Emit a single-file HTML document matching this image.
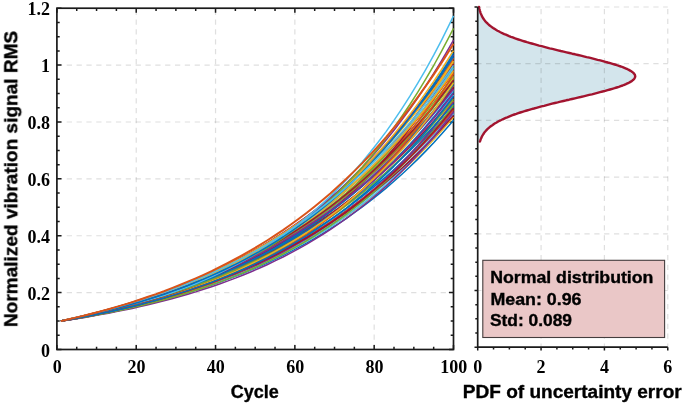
<!DOCTYPE html>
<html><head><meta charset="utf-8"><style>
html,body{margin:0;padding:0;background:#fff;overflow:hidden}
svg{display:block}
text{will-change:transform}
</style></head><body>
<svg width="685" height="406" viewBox="0 0 685 406">
<rect width="685" height="406" fill="#fff"/>
<line x1="136.22" y1="349.50" x2="136.22" y2="8.22" stroke="#262626" stroke-opacity="0.15" stroke-width="1.2" stroke-dasharray="5.25 4.59"/>
<line x1="215.54" y1="349.50" x2="215.54" y2="8.22" stroke="#262626" stroke-opacity="0.15" stroke-width="1.2" stroke-dasharray="5.25 4.59"/>
<line x1="294.86" y1="349.50" x2="294.86" y2="8.22" stroke="#262626" stroke-opacity="0.15" stroke-width="1.2" stroke-dasharray="5.25 4.59"/>
<line x1="374.18" y1="349.50" x2="374.18" y2="8.22" stroke="#262626" stroke-opacity="0.15" stroke-width="1.2" stroke-dasharray="5.25 4.59"/>
<line x1="56.90" y1="292.62" x2="453.50" y2="292.62" stroke="#262626" stroke-opacity="0.15" stroke-width="1.2" stroke-dasharray="5.25 4.59"/>
<line x1="56.90" y1="235.74" x2="453.50" y2="235.74" stroke="#262626" stroke-opacity="0.15" stroke-width="1.2" stroke-dasharray="5.25 4.59"/>
<line x1="56.90" y1="178.86" x2="453.50" y2="178.86" stroke="#262626" stroke-opacity="0.15" stroke-width="1.2" stroke-dasharray="5.25 4.59"/>
<line x1="56.90" y1="121.98" x2="453.50" y2="121.98" stroke="#262626" stroke-opacity="0.15" stroke-width="1.2" stroke-dasharray="5.25 4.59"/>
<line x1="56.90" y1="65.10" x2="453.50" y2="65.10" stroke="#262626" stroke-opacity="0.15" stroke-width="1.2" stroke-dasharray="5.25 4.59"/>
<rect x="56.90" y="8.22" width="396.60" height="341.28" fill="none" stroke="#1a1a1a" stroke-width="1.7"/>
<path d="M56.90,349.50v-4.6M56.90,8.22v4.6M76.73,349.50v-2.8M76.73,8.22v2.8M96.56,349.50v-2.8M96.56,8.22v2.8M116.39,349.50v-2.8M116.39,8.22v2.8M136.22,349.50v-4.6M136.22,8.22v4.6M156.05,349.50v-2.8M156.05,8.22v2.8M175.88,349.50v-2.8M175.88,8.22v2.8M195.71,349.50v-2.8M195.71,8.22v2.8M215.54,349.50v-4.6M215.54,8.22v4.6M235.37,349.50v-2.8M235.37,8.22v2.8M255.20,349.50v-2.8M255.20,8.22v2.8M275.03,349.50v-2.8M275.03,8.22v2.8M294.86,349.50v-4.6M294.86,8.22v4.6M314.69,349.50v-2.8M314.69,8.22v2.8M334.52,349.50v-2.8M334.52,8.22v2.8M354.35,349.50v-2.8M354.35,8.22v2.8M374.18,349.50v-4.6M374.18,8.22v4.6M394.01,349.50v-2.8M394.01,8.22v2.8M413.84,349.50v-2.8M413.84,8.22v2.8M433.67,349.50v-2.8M433.67,8.22v2.8M453.50,349.50v-4.6M453.50,8.22v4.6M56.90,349.50h4.6M453.50,349.50h-4.6M56.90,335.28h2.8M453.50,335.28h-2.8M56.90,321.06h2.8M453.50,321.06h-2.8M56.90,306.84h2.8M453.50,306.84h-2.8M56.90,292.62h4.6M453.50,292.62h-4.6M56.90,278.40h2.8M453.50,278.40h-2.8M56.90,264.18h2.8M453.50,264.18h-2.8M56.90,249.96h2.8M453.50,249.96h-2.8M56.90,235.74h4.6M453.50,235.74h-4.6M56.90,221.52h2.8M453.50,221.52h-2.8M56.90,207.30h2.8M453.50,207.30h-2.8M56.90,193.08h2.8M453.50,193.08h-2.8M56.90,178.86h4.6M453.50,178.86h-4.6M56.90,164.64h2.8M453.50,164.64h-2.8M56.90,150.42h2.8M453.50,150.42h-2.8M56.90,136.20h2.8M453.50,136.20h-2.8M56.90,121.98h4.6M453.50,121.98h-4.6M56.90,107.76h2.8M453.50,107.76h-2.8M56.90,93.54h2.8M453.50,93.54h-2.8M56.90,79.32h2.8M453.50,79.32h-2.8M56.90,65.10h4.6M453.50,65.10h-4.6M56.90,50.88h2.8M453.50,50.88h-2.8M56.90,36.66h2.8M453.50,36.66h-2.8M56.90,22.44h2.8M453.50,22.44h-2.8M56.90,8.22h4.6M453.50,8.22h-4.6" stroke="#1a1a1a" stroke-width="1.5" fill="none"/>
<path d="M60.9,321.1 68.8,319.6 76.7,318.0 84.7,316.4 92.6,314.7 100.5,312.9 108.5,311.1 116.4,309.1 124.3,307.2 132.3,305.1 140.2,302.9 148.1,300.7 156.1,298.3 164.0,295.9 171.9,293.4 179.8,290.8 187.8,288.0 195.7,285.2 203.6,282.2 211.6,279.1 219.5,275.9 227.4,272.6 235.4,269.1 243.3,265.5 251.2,261.7 259.2,257.8 267.1,253.7 275.0,249.5 283.0,245.1 290.9,240.5 298.8,235.7 306.8,230.7 314.7,225.5 322.6,220.1 330.6,214.5 338.5,208.7 346.4,202.6 354.3,196.3 362.3,189.7 370.2,182.9 378.1,175.8 386.1,168.4 394.0,160.7 401.9,152.6 409.9,144.3 417.8,135.6 425.7,126.5 433.7,117.1 441.6,107.3 449.5,97.2 453.5,91.9" fill="none" stroke="#0072BD" stroke-width="1.5" stroke-linejoin="round"/>
<path d="M60.9,321.1 68.8,319.8 76.7,318.5 84.7,317.1 92.6,315.7 100.5,314.1 108.5,312.6 116.4,310.9 124.3,309.2 132.3,307.4 140.2,305.5 148.1,303.6 156.1,301.5 164.0,299.4 171.9,297.1 179.8,294.8 187.8,292.3 195.7,289.8 203.6,287.1 211.6,284.3 219.5,281.4 227.4,278.4 235.4,275.2 243.3,271.8 251.2,268.4 259.2,264.7 267.1,260.9 275.0,256.9 283.0,252.8 290.9,248.5 298.8,243.9 306.8,239.2 314.7,234.2 322.6,229.1 330.6,223.6 338.5,218.0 346.4,212.1 354.3,205.9 362.3,199.5 370.2,192.7 378.1,185.7 386.1,178.3 394.0,170.6 401.9,162.6 409.9,154.2 417.8,145.4 425.7,136.2 433.7,126.7 441.6,116.6 449.5,106.2 453.5,100.8" fill="none" stroke="#D95319" stroke-width="1.5" stroke-linejoin="round"/>
<path d="M60.9,321.1 68.8,319.5 76.7,317.8 84.7,316.1 92.6,314.3 100.5,312.5 108.5,310.5 116.4,308.5 124.3,306.4 132.3,304.2 140.2,301.9 148.1,299.5 156.1,297.0 164.0,294.4 171.9,291.6 179.8,288.8 187.8,285.8 195.7,282.7 203.6,279.5 211.6,276.1 219.5,272.6 227.4,269.0 235.4,265.1 243.3,261.1 251.2,257.0 259.2,252.7 267.1,248.1 275.0,243.4 283.0,238.5 290.9,233.3 298.8,228.0 306.8,222.4 314.7,216.6 322.6,210.5 330.6,204.2 338.5,197.5 346.4,190.6 354.3,183.4 362.3,175.9 370.2,168.1 378.1,159.9 386.1,151.4 394.0,142.5 401.9,133.2 409.9,123.6 417.8,113.5 425.7,102.9 433.7,92.0 441.6,80.5 449.5,68.6 453.5,62.4" fill="none" stroke="#EDB120" stroke-width="1.5" stroke-linejoin="round"/>
<path d="M60.9,321.1 68.8,319.6 76.7,318.1 84.7,316.5 92.6,314.8 100.5,313.1 108.5,311.3 116.4,309.5 124.3,307.6 132.3,305.6 140.2,303.5 148.1,301.4 156.1,299.1 164.0,296.8 171.9,294.4 179.8,291.9 187.8,289.3 195.7,286.6 203.6,283.8 211.6,280.9 219.5,277.9 227.4,274.8 235.4,271.5 243.3,268.1 251.2,264.6 259.2,261.0 267.1,257.2 275.0,253.2 283.0,249.2 290.9,244.9 298.8,240.5 306.8,235.9 314.7,231.2 322.6,226.3 330.6,221.1 338.5,215.8 346.4,210.3 354.3,204.5 362.3,198.6 370.2,192.4 378.1,186.0 386.1,179.3 394.0,172.3 401.9,165.1 409.9,157.7 417.8,149.9 425.7,141.8 433.7,133.5 441.6,124.8 449.5,115.7 453.5,111.1" fill="none" stroke="#7E2F8E" stroke-width="1.5" stroke-linejoin="round"/>
<path d="M60.9,321.1 68.8,319.5 76.7,317.8 84.7,316.1 92.6,314.3 100.5,312.4 108.5,310.5 116.4,308.5 124.3,306.3 132.3,304.2 140.2,301.9 148.1,299.5 156.1,297.0 164.0,294.5 171.9,291.8 179.8,289.0 187.8,286.1 195.7,283.1 203.6,280.0 211.6,276.7 219.5,273.3 227.4,269.8 235.4,266.1 243.3,262.3 251.2,258.3 259.2,254.1 267.1,249.8 275.0,245.3 283.0,240.7 290.9,235.8 298.8,230.8 306.8,225.5 314.7,220.0 322.6,214.3 330.6,208.4 338.5,202.2 346.4,195.8 354.3,189.1 362.3,182.1 370.2,174.9 378.1,167.4 386.1,159.5 394.0,151.4 401.9,142.9 409.9,134.0 417.8,124.9 425.7,115.3 433.7,105.3 441.6,95.0 449.5,84.2 453.5,78.6" fill="none" stroke="#77AC30" stroke-width="1.5" stroke-linejoin="round"/>
<path d="M60.9,321.1 68.8,319.7 76.7,318.3 84.7,316.9 92.6,315.3 100.5,313.8 108.5,312.1 116.4,310.4 124.3,308.6 132.3,306.7 140.2,304.8 148.1,302.8 156.1,300.7 164.0,298.5 171.9,296.2 179.8,293.9 187.8,291.4 195.7,288.8 203.6,286.2 211.6,283.4 219.5,280.5 227.4,277.4 235.4,274.3 243.3,271.0 251.2,267.6 259.2,264.1 267.1,260.4 275.0,256.5 283.0,252.5 290.9,248.4 298.8,244.0 306.8,239.5 314.7,234.8 322.6,229.9 330.6,224.8 338.5,219.5 346.4,213.9 354.3,208.2 362.3,202.2 370.2,195.9 378.1,189.4 386.1,182.6 394.0,175.6 401.9,168.2 409.9,160.6 417.8,152.6 425.7,144.3 433.7,135.7 441.6,126.7 449.5,117.4 453.5,112.6" fill="none" stroke="#4DBEEE" stroke-width="1.5" stroke-linejoin="round"/>
<path d="M60.9,321.1 68.8,319.3 76.7,317.4 84.7,315.5 92.6,313.5 100.5,311.5 108.5,309.3 116.4,307.1 124.3,304.7 132.3,302.3 140.2,299.8 148.1,297.2 156.1,294.5 164.0,291.6 171.9,288.7 179.8,285.6 187.8,282.5 195.7,279.2 203.6,275.7 211.6,272.1 219.5,268.4 227.4,264.6 235.4,260.6 243.3,256.4 251.2,252.1 259.2,247.6 267.1,242.9 275.0,238.0 283.0,232.9 290.9,227.7 298.8,222.2 306.8,216.5 314.7,210.6 322.6,204.4 330.6,198.0 338.5,191.4 346.4,184.5 354.3,177.3 362.3,169.8 370.2,162.1 378.1,154.0 386.1,145.6 394.0,136.9 401.9,127.8 409.9,118.4 417.8,108.6 425.7,98.4 433.7,87.8 441.6,76.8 449.5,65.3 453.5,59.5" fill="none" stroke="#A2142F" stroke-width="1.5" stroke-linejoin="round"/>
<path d="M60.9,321.1 68.8,319.8 76.7,318.4 84.7,317.1 92.6,315.6 100.5,314.1 108.5,312.5 116.4,310.9 124.3,309.2 132.3,307.4 140.2,305.6 148.1,303.6 156.1,301.6 164.0,299.5 171.9,297.4 179.8,295.1 187.8,292.7 195.7,290.3 203.6,287.7 211.6,285.0 219.5,282.3 227.4,279.4 235.4,276.3 243.3,273.2 251.2,269.9 259.2,266.5 267.1,263.0 275.0,259.3 283.0,255.4 290.9,251.4 298.8,247.2 306.8,242.9 314.7,238.4 322.6,233.6 330.6,228.7 338.5,223.6 346.4,218.3 354.3,212.7 362.3,206.9 370.2,200.9 378.1,194.6 386.1,188.1 394.0,181.3 401.9,174.2 409.9,166.8 417.8,159.1 425.7,151.1 433.7,142.7 441.6,134.0 449.5,124.9 453.5,120.3" fill="none" stroke="#0072BD" stroke-width="1.5" stroke-linejoin="round"/>
<path d="M60.9,321.1 68.8,319.6 76.7,318.1 84.7,316.6 92.6,315.0 100.5,313.2 108.5,311.5 116.4,309.6 124.3,307.6 132.3,305.6 140.2,303.4 148.1,301.2 156.1,298.8 164.0,296.3 171.9,293.8 179.8,291.0 187.8,288.2 195.7,285.3 203.6,282.2 211.6,278.9 219.5,275.5 227.4,271.9 235.4,268.2 243.3,264.3 251.2,260.2 259.2,255.9 267.1,251.5 275.0,246.8 283.0,241.9 290.9,236.7 298.8,231.4 306.8,225.7 314.7,219.8 322.6,213.7 330.6,207.2 338.5,200.4 346.4,193.4 354.3,186.0 362.3,178.2 370.2,170.1 378.1,161.6 386.1,152.7 394.0,143.3 401.9,133.6 409.9,123.4 417.8,112.7 425.7,101.5 433.7,89.7 441.6,77.5 449.5,64.6 453.5,58.0" fill="none" stroke="#D95319" stroke-width="1.5" stroke-linejoin="round"/>
<path d="M60.9,321.1 68.8,319.6 76.7,318.0 84.7,316.4 92.6,314.7 100.5,312.9 108.5,311.1 116.4,309.2 124.3,307.2 132.3,305.1 140.2,302.9 148.1,300.6 156.1,298.3 164.0,295.8 171.9,293.2 179.8,290.5 187.8,287.7 195.7,284.8 203.6,281.7 211.6,278.5 219.5,275.2 227.4,271.8 235.4,268.2 243.3,264.4 251.2,260.5 259.2,256.4 267.1,252.1 275.0,247.6 283.0,243.0 290.9,238.2 298.8,233.1 306.8,227.8 314.7,222.3 322.6,216.6 330.6,210.6 338.5,204.4 346.4,197.9 354.3,191.1 362.3,184.0 370.2,176.6 378.1,168.9 386.1,160.9 394.0,152.5 401.9,143.8 409.9,134.7 417.8,125.2 425.7,115.3 433.7,105.0 441.6,94.2 449.5,83.0 453.5,77.2" fill="none" stroke="#EDB120" stroke-width="1.5" stroke-linejoin="round"/>
<path d="M60.9,321.1 68.8,319.3 76.7,317.5 84.7,315.7 92.6,313.7 100.5,311.7 108.5,309.6 116.4,307.4 124.3,305.1 132.3,302.7 140.2,300.2 148.1,297.6 156.1,294.9 164.0,292.1 171.9,289.2 179.8,286.2 187.8,283.0 195.7,279.8 203.6,276.3 211.6,272.8 219.5,269.1 227.4,265.2 235.4,261.2 243.3,257.0 251.2,252.6 259.2,248.1 267.1,243.4 275.0,238.5 283.0,233.4 290.9,228.0 298.8,222.5 306.8,216.7 314.7,210.7 322.6,204.5 330.6,197.9 338.5,191.2 346.4,184.1 354.3,176.8 362.3,169.1 370.2,161.2 378.1,152.9 386.1,144.2 394.0,135.3 401.9,125.9 409.9,116.2 417.8,106.0 425.7,95.5 433.7,84.5 441.6,73.1 449.5,61.2 453.5,55.0" fill="none" stroke="#7E2F8E" stroke-width="1.5" stroke-linejoin="round"/>
<path d="M60.9,321.1 68.8,319.4 76.7,317.7 84.7,315.9 92.6,314.1 100.5,312.1 108.5,310.1 116.4,308.0 124.3,305.9 132.3,303.6 140.2,301.3 148.1,298.8 156.1,296.3 164.0,293.7 171.9,290.9 179.8,288.1 187.8,285.1 195.7,282.0 203.6,278.8 211.6,275.5 219.5,272.0 227.4,268.4 235.4,264.7 243.3,260.8 251.2,256.7 259.2,252.5 267.1,248.1 275.0,243.5 283.0,238.8 290.9,233.9 298.8,228.7 306.8,223.4 314.7,217.8 322.6,212.1 330.6,206.1 338.5,199.8 346.4,193.4 354.3,186.6 362.3,179.6 370.2,172.3 378.1,164.7 386.1,156.8 394.0,148.6 401.9,140.1 409.9,131.2 417.8,122.0 425.7,112.4 433.7,102.4 441.6,92.0 449.5,81.2 453.5,75.7" fill="none" stroke="#77AC30" stroke-width="1.5" stroke-linejoin="round"/>
<path d="M60.9,321.1 68.8,319.7 76.7,318.4 84.7,316.9 92.6,315.4 100.5,313.8 108.5,312.2 116.4,310.5 124.3,308.7 132.3,306.8 140.2,304.8 148.1,302.8 156.1,300.7 164.0,298.4 171.9,296.1 179.8,293.7 187.8,291.1 195.7,288.5 203.6,285.7 211.6,282.8 219.5,279.8 227.4,276.6 235.4,273.3 243.3,269.9 251.2,266.3 259.2,262.5 267.1,258.6 275.0,254.5 283.0,250.2 290.9,245.8 298.8,241.1 306.8,236.2 314.7,231.1 322.6,225.8 330.6,220.3 338.5,214.5 346.4,208.4 354.3,202.1 362.3,195.5 370.2,188.6 378.1,181.4 386.1,173.9 394.0,166.0 401.9,157.8 409.9,149.2 417.8,140.3 425.7,131.0 433.7,121.2 441.6,111.0 449.5,100.4 453.5,94.9" fill="none" stroke="#4DBEEE" stroke-width="1.5" stroke-linejoin="round"/>
<path d="M60.9,321.1 68.8,319.5 76.7,317.8 84.7,316.1 92.6,314.3 100.5,312.4 108.5,310.5 116.4,308.4 124.3,306.4 132.3,304.2 140.2,302.0 148.1,299.6 156.1,297.2 164.0,294.7 171.9,292.1 179.8,289.4 187.8,286.6 195.7,283.7 203.6,280.7 211.6,277.6 219.5,274.3 227.4,271.0 235.4,267.5 243.3,263.8 251.2,260.1 259.2,256.2 267.1,252.1 275.0,247.9 283.0,243.6 290.9,239.0 298.8,234.4 306.8,229.5 314.7,224.4 322.6,219.2 330.6,213.7 338.5,208.1 346.4,202.2 354.3,196.2 362.3,189.9 370.2,183.3 378.1,176.5 386.1,169.5 394.0,162.2 401.9,154.6 409.9,146.7 417.8,138.5 425.7,130.1 433.7,121.3 441.6,112.1 449.5,102.7 453.5,97.8" fill="none" stroke="#A2142F" stroke-width="1.5" stroke-linejoin="round"/>
<path d="M60.9,321.1 68.8,319.6 76.7,318.0 84.7,316.4 92.6,314.7 100.5,313.0 108.5,311.2 116.4,309.3 124.3,307.4 132.3,305.4 140.2,303.3 148.1,301.1 156.1,298.8 164.0,296.5 171.9,294.0 179.8,291.5 187.8,288.9 195.7,286.1 203.6,283.3 211.6,280.3 219.5,277.2 227.4,274.1 235.4,270.7 243.3,267.3 251.2,263.7 259.2,260.0 267.1,256.1 275.0,252.1 283.0,248.0 290.9,243.6 298.8,239.1 306.8,234.5 314.7,229.6 322.6,224.6 330.6,219.4 338.5,213.9 346.4,208.3 354.3,202.4 362.3,196.3 370.2,190.0 378.1,183.4 386.1,176.6 394.0,169.5 401.9,162.1 409.9,154.4 417.8,146.5 425.7,138.2 433.7,129.6 441.6,120.7 449.5,111.4 453.5,106.7" fill="none" stroke="#0072BD" stroke-width="1.5" stroke-linejoin="round"/>
<path d="M60.9,321.1 68.8,319.7 76.7,318.2 84.7,316.7 92.6,315.1 100.5,313.4 108.5,311.7 116.4,309.8 124.3,307.9 132.3,305.9 140.2,303.8 148.1,301.7 156.1,299.4 164.0,297.0 171.9,294.5 179.8,291.8 187.8,289.1 195.7,286.2 203.6,283.2 211.6,280.1 219.5,276.8 227.4,273.4 235.4,269.8 243.3,266.0 251.2,262.1 259.2,258.0 267.1,253.7 275.0,249.2 283.0,244.5 290.9,239.6 298.8,234.4 306.8,229.0 314.7,223.4 322.6,217.5 330.6,211.3 338.5,204.9 346.4,198.1 354.3,191.0 362.3,183.7 370.2,175.9 378.1,167.8 386.1,159.4 394.0,150.5 401.9,141.3 409.9,131.6 417.8,121.5 425.7,110.9 433.7,99.8 441.6,88.2 449.5,76.1 453.5,69.8" fill="none" stroke="#D95319" stroke-width="1.5" stroke-linejoin="round"/>
<path d="M60.9,321.1 68.8,319.7 76.7,318.4 84.7,316.9 92.6,315.4 100.5,313.9 108.5,312.2 116.4,310.5 124.3,308.8 132.3,307.0 140.2,305.0 148.1,303.1 156.1,301.0 164.0,298.8 171.9,296.6 179.8,294.3 187.8,291.9 195.7,289.3 203.6,286.7 211.6,284.0 219.5,281.1 227.4,278.2 235.4,275.1 243.3,271.9 251.2,268.5 259.2,265.0 267.1,261.4 275.0,257.6 283.0,253.7 290.9,249.6 298.8,245.4 306.8,241.0 314.7,236.3 322.6,231.5 330.6,226.5 338.5,221.3 346.4,215.9 354.3,210.3 362.3,204.4 370.2,198.3 378.1,192.0 386.1,185.4 394.0,178.5 401.9,171.3 409.9,163.8 417.8,156.1 425.7,148.0 433.7,139.6 441.6,130.8 449.5,121.7 453.5,117.0" fill="none" stroke="#EDB120" stroke-width="1.5" stroke-linejoin="round"/>
<path d="M60.9,321.1 68.8,319.6 76.7,318.0 84.7,316.4 92.6,314.7 100.5,313.0 108.5,311.1 116.4,309.2 124.3,307.3 132.3,305.2 140.2,303.1 148.1,300.8 156.1,298.5 164.0,296.1 171.9,293.6 179.8,291.0 187.8,288.3 195.7,285.4 203.6,282.5 211.6,279.4 219.5,276.2 227.4,272.9 235.4,269.5 243.3,265.9 251.2,262.1 259.2,258.2 267.1,254.2 275.0,250.0 283.0,245.6 290.9,241.0 298.8,236.3 306.8,231.3 314.7,226.2 322.6,220.8 330.6,215.3 338.5,209.5 346.4,203.4 354.3,197.2 362.3,190.6 370.2,183.8 378.1,176.7 386.1,169.4 394.0,161.7 401.9,153.7 409.9,145.4 417.8,136.8 425.7,127.8 433.7,118.5 441.6,108.7 449.5,98.6 453.5,93.4" fill="none" stroke="#7E2F8E" stroke-width="1.5" stroke-linejoin="round"/>
<path d="M60.9,321.1 68.8,319.5 76.7,317.9 84.7,316.2 92.6,314.5 100.5,312.7 108.5,310.8 116.4,308.8 124.3,306.7 132.3,304.5 140.2,302.3 148.1,299.9 156.1,297.5 164.0,294.9 171.9,292.2 179.8,289.5 187.8,286.5 195.7,283.5 203.6,280.3 211.6,277.0 219.5,273.6 227.4,270.0 235.4,266.3 243.3,262.3 251.2,258.3 259.2,254.0 267.1,249.6 275.0,244.9 283.0,240.1 290.9,235.0 298.8,229.8 306.8,224.3 314.7,218.6 322.6,212.6 330.6,206.4 338.5,199.8 346.4,193.1 354.3,186.0 362.3,178.6 370.2,170.9 378.1,162.9 386.1,154.5 394.0,145.7 401.9,136.6 409.9,127.1 417.8,117.1 425.7,106.8 433.7,96.0 441.6,84.7 449.5,72.9 453.5,66.8" fill="none" stroke="#77AC30" stroke-width="1.5" stroke-linejoin="round"/>
<path d="M60.9,321.1 68.8,319.3 76.7,317.5 84.7,315.6 92.6,313.7 100.5,311.7 108.5,309.6 116.4,307.4 124.3,305.2 132.3,302.8 140.2,300.4 148.1,297.9 156.1,295.4 164.0,292.7 171.9,289.9 179.8,287.1 187.8,284.1 195.7,281.0 203.6,277.8 211.6,274.5 219.5,271.1 227.4,267.6 235.4,263.9 243.3,260.1 251.2,256.1 259.2,252.1 267.1,247.8 275.0,243.5 283.0,238.9 290.9,234.2 298.8,229.4 306.8,224.3 314.7,219.1 322.6,213.7 330.6,208.1 338.5,202.3 346.4,196.3 354.3,190.0 362.3,183.6 370.2,176.9 378.1,170.0 386.1,162.8 394.0,155.4 401.9,147.7 409.9,139.7 417.8,131.4 425.7,122.9 433.7,114.0 441.6,104.8 449.5,95.3 453.5,90.4" fill="none" stroke="#4DBEEE" stroke-width="1.5" stroke-linejoin="round"/>
<path d="M60.9,321.1 68.8,319.7 76.7,318.3 84.7,316.8 92.6,315.3 100.5,313.6 108.5,311.9 116.4,310.2 124.3,308.3 132.3,306.3 140.2,304.3 148.1,302.1 156.1,299.9 164.0,297.5 171.9,295.0 179.8,292.4 187.8,289.7 195.7,286.8 203.6,283.9 211.6,280.7 219.5,277.4 227.4,274.0 235.4,270.4 243.3,266.6 251.2,262.7 259.2,258.5 267.1,254.2 275.0,249.6 283.0,244.9 290.9,239.9 298.8,234.6 306.8,229.1 314.7,223.4 322.6,217.4 330.6,211.0 338.5,204.4 346.4,197.5 354.3,190.2 362.3,182.6 370.2,174.6 378.1,166.3 386.1,157.5 394.0,148.3 401.9,138.7 409.9,128.6 417.8,118.1 425.7,107.0 433.7,95.4 441.6,83.2 449.5,70.5 453.5,63.9" fill="none" stroke="#A2142F" stroke-width="1.5" stroke-linejoin="round"/>
<path d="M60.9,321.1 68.8,319.4 76.7,317.7 84.7,315.8 92.6,314.0 100.5,312.0 108.5,309.9 116.4,307.8 124.3,305.6 132.3,303.3 140.2,300.8 148.1,298.3 156.1,295.7 164.0,293.0 171.9,290.1 179.8,287.2 187.8,284.1 195.7,280.9 203.6,277.5 211.6,274.0 219.5,270.4 227.4,266.6 235.4,262.6 243.3,258.5 251.2,254.2 259.2,249.7 267.1,245.0 275.0,240.2 283.0,235.1 290.9,229.8 298.8,224.3 306.8,218.6 314.7,212.6 322.6,206.4 330.6,199.9 338.5,193.2 346.4,186.2 354.3,178.8 362.3,171.2 370.2,163.2 378.1,154.9 386.1,146.3 394.0,137.3 401.9,127.9 409.9,118.1 417.8,107.9 425.7,97.3 433.7,86.2 441.6,74.7 449.5,62.7 453.5,56.5" fill="none" stroke="#0072BD" stroke-width="1.5" stroke-linejoin="round"/>
<path d="M60.9,321.1 68.8,319.3 76.7,317.6 84.7,315.7 92.6,313.8 100.5,311.8 108.5,309.8 116.4,307.6 124.3,305.4 132.3,303.1 140.2,300.7 148.1,298.2 156.1,295.7 164.0,293.0 171.9,290.3 179.8,287.4 187.8,284.4 195.7,281.3 203.6,278.2 211.6,274.8 219.5,271.4 227.4,267.8 235.4,264.1 243.3,260.3 251.2,256.3 259.2,252.2 267.1,247.9 275.0,243.5 283.0,238.9 290.9,234.1 298.8,229.2 306.8,224.1 314.7,218.7 322.6,213.2 330.6,207.5 338.5,201.6 346.4,195.4 354.3,189.0 362.3,182.4 370.2,175.5 378.1,168.4 386.1,161.0 394.0,153.3 401.9,145.4 409.9,137.1 417.8,128.6 425.7,119.7 433.7,110.5 441.6,101.0 449.5,91.1 453.5,86.0" fill="none" stroke="#D95319" stroke-width="1.5" stroke-linejoin="round"/>
<path d="M60.9,321.1 68.8,319.3 76.7,317.5 84.7,315.6 92.6,313.6 100.5,311.5 108.5,309.4 116.4,307.2 124.3,304.8 132.3,302.4 140.2,299.9 148.1,297.3 156.1,294.6 164.0,291.8 171.9,288.9 179.8,285.9 187.8,282.7 195.7,279.4 203.6,276.0 211.6,272.5 219.5,268.8 227.4,264.9 235.4,260.9 243.3,256.8 251.2,252.5 259.2,248.0 267.1,243.3 275.0,238.5 283.0,233.5 290.9,228.2 298.8,222.8 306.8,217.1 314.7,211.2 322.6,205.1 330.6,198.8 338.5,192.2 346.4,185.3 354.3,178.2 362.3,170.7 370.2,163.0 378.1,155.0 386.1,146.6 394.0,138.0 401.9,128.9 409.9,119.6 417.8,109.8 425.7,99.7 433.7,89.1 441.6,78.2 449.5,66.8 453.5,60.9" fill="none" stroke="#EDB120" stroke-width="1.5" stroke-linejoin="round"/>
<path d="M60.9,321.1 68.8,319.8 76.7,318.4 84.7,317.0 92.6,315.5 100.5,314.0 108.5,312.4 116.4,310.7 124.3,308.9 132.3,307.1 140.2,305.2 148.1,303.2 156.1,301.1 164.0,298.9 171.9,296.6 179.8,294.3 187.8,291.8 195.7,289.2 203.6,286.5 211.6,283.7 219.5,280.8 227.4,277.7 235.4,274.5 243.3,271.1 251.2,267.7 259.2,264.0 267.1,260.2 275.0,256.2 283.0,252.1 290.9,247.7 298.8,243.2 306.8,238.5 314.7,233.6 322.6,228.4 330.6,223.1 338.5,217.5 346.4,211.6 354.3,205.5 362.3,199.1 370.2,192.5 378.1,185.5 386.1,178.3 394.0,170.7 401.9,162.8 409.9,154.5 417.8,145.9 425.7,136.9 433.7,127.5 441.6,117.7 449.5,107.5 453.5,102.2" fill="none" stroke="#7E2F8E" stroke-width="1.5" stroke-linejoin="round"/>
<path d="M60.9,321.1 68.8,319.4 76.7,317.7 84.7,315.9 92.6,314.1 100.5,312.1 108.5,310.1 116.4,308.1 124.3,305.9 132.3,303.6 140.2,301.3 148.1,298.9 156.1,296.4 164.0,293.8 171.9,291.0 179.8,288.2 187.8,285.3 195.7,282.2 203.6,279.1 211.6,275.8 219.5,272.4 227.4,268.8 235.4,265.1 243.3,261.3 251.2,257.3 259.2,253.1 267.1,248.8 275.0,244.4 283.0,239.7 290.9,234.9 298.8,229.9 306.8,224.7 314.7,219.2 322.6,213.6 330.6,207.8 338.5,201.7 346.4,195.4 354.3,188.8 362.3,182.0 370.2,174.9 378.1,167.5 386.1,159.9 394.0,152.0 401.9,143.7 409.9,135.1 417.8,126.2 425.7,116.9 433.7,107.3 441.6,97.3 449.5,86.9 453.5,81.6" fill="none" stroke="#77AC30" stroke-width="1.5" stroke-linejoin="round"/>
<path d="M60.9,321.1 68.8,319.8 76.7,318.4 84.7,317.0 92.6,315.6 100.5,314.1 108.5,312.5 116.4,310.8 124.3,309.1 132.3,307.3 140.2,305.4 148.1,303.5 156.1,301.5 164.0,299.3 171.9,297.1 179.8,294.8 187.8,292.4 195.7,289.9 203.6,287.3 211.6,284.6 219.5,281.8 227.4,278.8 235.4,275.7 243.3,272.5 251.2,269.2 259.2,265.7 267.1,262.0 275.0,258.2 283.0,254.3 290.9,250.2 298.8,245.9 306.8,241.4 314.7,236.7 322.6,231.9 330.6,226.8 338.5,221.5 346.4,216.0 354.3,210.2 362.3,204.2 370.2,198.0 378.1,191.5 386.1,184.7 394.0,177.6 401.9,170.2 409.9,162.5 417.8,154.5 425.7,146.2 433.7,137.5 441.6,128.4 449.5,118.9 453.5,114.0" fill="none" stroke="#4DBEEE" stroke-width="1.5" stroke-linejoin="round"/>
<path d="M60.9,321.1 68.8,319.4 76.7,317.6 84.7,315.8 92.6,313.9 100.5,312.0 108.5,310.0 116.4,307.8 124.3,305.7 132.3,303.4 140.2,301.0 148.1,298.6 156.1,296.0 164.0,293.4 171.9,290.6 179.8,287.7 187.8,284.8 195.7,281.7 203.6,278.5 211.6,275.2 219.5,271.7 227.4,268.1 235.4,264.4 243.3,260.5 251.2,256.5 259.2,252.3 267.1,248.0 275.0,243.5 283.0,238.8 290.9,233.9 298.8,228.9 306.8,223.6 314.7,218.2 322.6,212.5 330.6,206.6 338.5,200.5 346.4,194.2 354.3,187.6 362.3,180.7 370.2,173.6 378.1,166.2 386.1,158.6 394.0,150.6 401.9,142.3 409.9,133.7 417.8,124.8 425.7,115.5 433.7,105.9 441.6,95.8 449.5,85.5 453.5,80.1" fill="none" stroke="#A2142F" stroke-width="1.5" stroke-linejoin="round"/>
<path d="M60.9,321.1 68.8,319.4 76.7,317.8 84.7,316.0 92.6,314.2 100.5,312.4 108.5,310.5 116.4,308.4 124.3,306.4 132.3,304.2 140.2,302.0 148.1,299.7 156.1,297.3 164.0,294.8 171.9,292.2 179.8,289.6 187.8,286.8 195.7,283.9 203.6,280.9 211.6,277.9 219.5,274.7 227.4,271.4 235.4,267.9 243.3,264.4 251.2,260.7 259.2,256.8 267.1,252.9 275.0,248.8 283.0,244.5 290.9,240.1 298.8,235.5 306.8,230.8 314.7,225.8 322.6,220.7 330.6,215.4 338.5,210.0 346.4,204.3 354.3,198.4 362.3,192.3 370.2,185.9 378.1,179.4 386.1,172.6 394.0,165.5 401.9,158.2 409.9,150.6 417.8,142.8 425.7,134.6 433.7,126.2 441.6,117.4 449.5,108.4 453.5,103.7" fill="none" stroke="#0072BD" stroke-width="1.5" stroke-linejoin="round"/>
<path d="M60.9,321.1 68.8,319.3 76.7,317.5 84.7,315.6 92.6,313.6 100.5,311.6 108.5,309.5 116.4,307.3 124.3,305.0 132.3,302.6 140.2,300.2 148.1,297.6 156.1,295.0 164.0,292.2 171.9,289.4 179.8,286.4 187.8,283.3 195.7,280.1 203.6,276.8 211.6,273.3 219.5,269.8 227.4,266.0 235.4,262.2 243.3,258.2 251.2,254.0 259.2,249.7 267.1,245.2 275.0,240.5 283.0,235.7 290.9,230.7 298.8,225.5 306.8,220.1 314.7,214.4 322.6,208.6 330.6,202.6 338.5,196.3 346.4,189.7 354.3,183.0 362.3,175.9 370.2,168.6 378.1,161.0 386.1,153.1 394.0,145.0 401.9,136.5 409.9,127.6 417.8,118.5 425.7,109.0 433.7,99.1 441.6,88.8 449.5,78.2 453.5,72.7" fill="none" stroke="#D95319" stroke-width="1.5" stroke-linejoin="round"/>
<path d="M60.9,321.1 68.8,319.4 76.7,317.7 84.7,315.9 92.6,314.0 100.5,312.1 108.5,310.0 116.4,307.9 124.3,305.7 132.3,303.4 140.2,300.9 148.1,298.4 156.1,295.8 164.0,293.1 171.9,290.2 179.8,287.2 187.8,284.1 195.7,280.9 203.6,277.5 211.6,274.0 219.5,270.3 227.4,266.4 235.4,262.4 243.3,258.3 251.2,253.9 259.2,249.4 267.1,244.6 275.0,239.7 283.0,234.6 290.9,229.2 298.8,223.6 306.8,217.7 314.7,211.6 322.6,205.3 330.6,198.7 338.5,191.7 346.4,184.5 354.3,177.0 362.3,169.2 370.2,161.0 378.1,152.4 386.1,143.5 394.0,134.2 401.9,124.6 409.9,114.4 417.8,103.9 425.7,92.9 433.7,81.5 441.6,69.5 449.5,57.0 453.5,50.6" fill="none" stroke="#EDB120" stroke-width="1.5" stroke-linejoin="round"/>
<path d="M60.9,321.1 68.8,319.5 76.7,317.9 84.7,316.1 92.6,314.3 100.5,312.5 108.5,310.5 116.4,308.5 124.3,306.3 132.3,304.1 140.2,301.7 148.1,299.3 156.1,296.7 164.0,294.0 171.9,291.2 179.8,288.3 187.8,285.2 195.7,282.0 203.6,278.6 211.6,275.1 219.5,271.4 227.4,267.6 235.4,263.5 243.3,259.3 251.2,254.9 259.2,250.3 267.1,245.5 275.0,240.5 283.0,235.2 290.9,229.7 298.8,223.9 306.8,217.9 314.7,211.6 322.6,205.0 330.6,198.1 338.5,190.9 346.4,183.3 354.3,175.4 362.3,167.2 370.2,158.6 378.1,149.5 386.1,140.1 394.0,130.2 401.9,119.9 409.9,109.0 417.8,97.7 425.7,85.9 433.7,73.5 441.6,60.6 449.5,47.1 453.5,40.1" fill="none" stroke="#7E2F8E" stroke-width="1.5" stroke-linejoin="round"/>
<path d="M60.9,321.1 68.8,319.6 76.7,318.2 84.7,316.6 92.6,315.0 100.5,313.2 108.5,311.4 116.4,309.5 124.3,307.5 132.3,305.4 140.2,303.2 148.1,300.9 156.1,298.5 164.0,295.9 171.9,293.2 179.8,290.4 187.8,287.4 195.7,284.3 203.6,281.1 211.6,277.6 219.5,274.0 227.4,270.2 235.4,266.2 243.3,262.1 251.2,257.7 259.2,253.1 267.1,248.2 275.0,243.1 283.0,237.8 290.9,232.2 298.8,226.3 306.8,220.1 314.7,213.6 322.6,206.7 330.6,199.5 338.5,192.0 346.4,184.1 354.3,175.7 362.3,167.0 370.2,157.8 378.1,148.2 386.1,138.0 394.0,127.4 401.9,116.2 409.9,104.5 417.8,92.1 425.7,79.1 433.7,65.5 441.6,51.2 449.5,36.2 453.5,28.4" fill="none" stroke="#77AC30" stroke-width="1.5" stroke-linejoin="round"/>
<path d="M60.9,321.1 68.8,319.4 76.7,317.6 84.7,315.8 92.6,313.9 100.5,311.9 108.5,309.9 116.4,307.7 124.3,305.5 132.3,303.2 140.2,300.8 148.1,298.3 156.1,295.7 164.0,293.0 171.9,290.1 179.8,287.2 187.8,284.2 195.7,281.0 203.6,277.7 211.6,274.3 219.5,270.7 227.4,267.0 235.4,263.1 243.3,259.1 251.2,255.0 259.2,250.6 267.1,246.1 275.0,241.4 283.0,236.5 290.9,231.5 298.8,226.2 306.8,220.7 314.7,215.0 322.6,209.0 330.6,202.8 338.5,196.4 346.4,189.7 354.3,182.8 362.3,175.5 370.2,168.0 378.1,160.2 386.1,152.1 394.0,143.6 401.9,134.8 409.9,125.6 417.8,116.1 425.7,106.2 433.7,95.9 441.6,85.2 449.5,74.0 453.5,68.3" fill="none" stroke="#4DBEEE" stroke-width="1.5" stroke-linejoin="round"/>
<path d="M60.9,321.1 68.8,319.5 76.7,317.8 84.7,316.1 92.6,314.3 100.5,312.5 108.5,310.5 116.4,308.5 124.3,306.4 132.3,304.3 140.2,302.0 148.1,299.7 156.1,297.2 164.0,294.7 171.9,292.1 179.8,289.4 187.8,286.5 195.7,283.6 203.6,280.5 211.6,277.3 219.5,274.0 227.4,270.5 235.4,266.9 243.3,263.2 251.2,259.3 259.2,255.3 267.1,251.1 275.0,246.8 283.0,242.2 290.9,237.5 298.8,232.7 306.8,227.6 314.7,222.3 322.6,216.8 330.6,211.1 338.5,205.2 346.4,199.0 354.3,192.6 362.3,185.9 370.2,179.0 378.1,171.8 386.1,164.3 394.0,156.5 401.9,148.4 409.9,140.0 417.8,131.3 425.7,122.2 433.7,112.8 441.6,102.9 449.5,92.7 453.5,87.5" fill="none" stroke="#A2142F" stroke-width="1.5" stroke-linejoin="round"/>
<path d="M60.9,321.1 68.8,319.5 76.7,317.9 84.7,316.3 92.6,314.5 100.5,312.7 108.5,310.9 116.4,308.9 124.3,306.9 132.3,304.8 140.2,302.6 148.1,300.3 156.1,297.9 164.0,295.4 171.9,292.8 179.8,290.1 187.8,287.3 195.7,284.4 203.6,281.4 211.6,278.2 219.5,274.9 227.4,271.5 235.4,267.9 243.3,264.2 251.2,260.3 259.2,256.3 267.1,252.1 275.0,247.8 283.0,243.2 290.9,238.5 298.8,233.5 306.8,228.4 314.7,223.1 322.6,217.5 330.6,211.7 338.5,205.7 346.4,199.4 354.3,192.9 362.3,186.1 370.2,179.0 378.1,171.6 386.1,163.9 394.0,156.0 401.9,147.6 409.9,139.0 417.8,129.9 425.7,120.6 433.7,110.8 441.6,100.6 449.5,90.0 453.5,84.5" fill="none" stroke="#0072BD" stroke-width="1.5" stroke-linejoin="round"/>
<path d="M60.9,321.1 68.8,319.6 76.7,318.2 84.7,316.6 92.6,315.0 100.5,313.4 108.5,311.7 116.4,309.9 124.3,308.0 132.3,306.1 140.2,304.0 148.1,301.9 156.1,299.8 164.0,297.5 171.9,295.1 179.8,292.7 187.8,290.1 195.7,287.5 203.6,284.7 211.6,281.8 219.5,278.9 227.4,275.7 235.4,272.5 243.3,269.2 251.2,265.7 259.2,262.0 267.1,258.3 275.0,254.3 283.0,250.2 290.9,246.0 298.8,241.6 306.8,237.0 314.7,232.2 322.6,227.2 330.6,222.1 338.5,216.7 346.4,211.1 354.3,205.3 362.3,199.2 370.2,192.9 378.1,186.4 386.1,179.6 394.0,172.5 401.9,165.2 409.9,157.5 417.8,149.5 425.7,141.3 433.7,132.7 441.6,123.7 449.5,114.4 453.5,109.6" fill="none" stroke="#D95319" stroke-width="1.5" stroke-linejoin="round"/>
<path d="M60.9,321.1 68.8,319.3 76.7,317.5 84.7,315.7 92.6,313.7 100.5,311.7 108.5,309.6 116.4,307.4 124.3,305.2 132.3,302.8 140.2,300.4 148.1,297.8 156.1,295.2 164.0,292.5 171.9,289.6 179.8,286.7 187.8,283.6 195.7,280.4 203.6,277.1 211.6,273.7 219.5,270.1 227.4,266.4 235.4,262.5 243.3,258.5 251.2,254.3 259.2,250.0 267.1,245.5 275.0,240.8 283.0,236.0 290.9,230.9 298.8,225.7 306.8,220.3 314.7,214.6 322.6,208.7 330.6,202.6 338.5,196.3 346.4,189.7 354.3,182.9 362.3,175.8 370.2,168.4 378.1,160.7 386.1,152.8 394.0,144.5 401.9,135.9 409.9,127.0 417.8,117.7 425.7,108.0 433.7,98.0 441.6,87.6 449.5,76.8 453.5,71.3" fill="none" stroke="#EDB120" stroke-width="1.5" stroke-linejoin="round"/>
<path d="M60.9,321.1 68.8,319.4 76.7,317.7 84.7,315.9 92.6,314.1 100.5,312.2 108.5,310.2 116.4,308.1 124.3,306.0 132.3,303.8 140.2,301.5 148.1,299.1 156.1,296.6 164.0,294.0 171.9,291.4 179.8,288.6 187.8,285.7 195.7,282.7 203.6,279.6 211.6,276.4 219.5,273.0 227.4,269.5 235.4,265.9 243.3,262.2 251.2,258.3 259.2,254.2 267.1,250.0 275.0,245.7 283.0,241.2 290.9,236.5 298.8,231.6 306.8,226.5 314.7,221.3 322.6,215.8 330.6,210.2 338.5,204.3 346.4,198.2 354.3,191.9 362.3,185.3 370.2,178.5 378.1,171.4 386.1,164.0 394.0,156.4 401.9,148.4 409.9,140.2 417.8,131.7 425.7,122.8 433.7,113.6 441.6,104.0 449.5,94.1 453.5,89.0" fill="none" stroke="#7E2F8E" stroke-width="1.5" stroke-linejoin="round"/>
<path d="M60.9,321.1 68.8,319.6 76.7,318.0 84.7,316.4 92.6,314.7 100.5,313.0 108.5,311.1 116.4,309.2 124.3,307.3 132.3,305.2 140.2,303.1 148.1,300.9 156.1,298.6 164.0,296.2 171.9,293.7 179.8,291.1 187.8,288.4 195.7,285.6 203.6,282.7 211.6,279.7 219.5,276.6 227.4,273.3 235.4,269.9 243.3,266.4 251.2,262.7 259.2,258.9 267.1,254.9 275.0,250.8 283.0,246.5 290.9,242.1 298.8,237.4 306.8,232.6 314.7,227.6 322.6,222.4 330.6,216.9 338.5,211.3 346.4,205.4 354.3,199.3 362.3,193.0 370.2,186.4 378.1,179.6 386.1,172.5 394.0,165.1 401.9,157.4 409.9,149.3 417.8,141.0 425.7,132.4 433.7,123.4 441.6,114.0 449.5,104.3 453.5,99.3" fill="none" stroke="#77AC30" stroke-width="1.5" stroke-linejoin="round"/>
<path d="M60.9,321.1 68.8,319.6 76.7,318.1 84.7,316.6 92.6,314.9 100.5,313.1 108.5,311.3 116.4,309.4 124.3,307.4 132.3,305.2 140.2,303.0 148.1,300.6 156.1,298.1 164.0,295.5 171.9,292.8 179.8,289.9 187.8,286.9 195.7,283.7 203.6,280.3 211.6,276.8 219.5,273.1 227.4,269.2 235.4,265.1 243.3,260.8 251.2,256.3 259.2,251.5 267.1,246.5 275.0,241.2 283.0,235.7 290.9,229.9 298.8,223.8 306.8,217.3 314.7,210.5 322.6,203.4 330.6,195.9 338.5,188.1 346.4,179.8 354.3,171.1 362.3,161.9 370.2,152.3 378.1,142.2 386.1,131.6 394.0,120.4 401.9,108.6 409.9,96.2 417.8,83.2 425.7,69.6 433.7,55.2 441.6,40.1 449.5,24.2 453.5,15.9" fill="none" stroke="#4DBEEE" stroke-width="1.5" stroke-linejoin="round"/>
<path d="M60.9,321.1 68.8,319.6 76.7,318.1 84.7,316.5 92.6,314.9 100.5,313.2 108.5,311.5 116.4,309.6 124.3,307.7 132.3,305.8 140.2,303.7 148.1,301.6 156.1,299.4 164.0,297.2 171.9,294.8 179.8,292.3 187.8,289.8 195.7,287.1 203.6,284.4 211.6,281.5 219.5,278.6 227.4,275.5 235.4,272.3 243.3,269.0 251.2,265.5 259.2,261.9 267.1,258.2 275.0,254.4 283.0,250.4 290.9,246.2 298.8,241.9 306.8,237.4 314.7,232.8 322.6,227.9 330.6,222.9 338.5,217.7 346.4,212.3 354.3,206.7 362.3,200.9 370.2,194.8 378.1,188.5 386.1,182.0 394.0,175.2 401.9,168.2 409.9,160.9 417.8,153.3 425.7,145.5 433.7,137.3 441.6,128.8 449.5,120.0 453.5,115.5" fill="none" stroke="#A2142F" stroke-width="1.5" stroke-linejoin="round"/>
<path d="M60.9,321.1 68.8,319.5 76.7,317.8 84.7,316.1 92.6,314.3 100.5,312.5 108.5,310.5 116.4,308.5 124.3,306.3 132.3,304.1 140.2,301.8 148.1,299.3 156.1,296.8 164.0,294.2 171.9,291.4 179.8,288.5 187.8,285.5 195.7,282.3 203.6,279.1 211.6,275.6 219.5,272.0 227.4,268.3 235.4,264.4 243.3,260.3 251.2,256.0 259.2,251.6 267.1,247.0 275.0,242.1 283.0,237.0 290.9,231.7 298.8,226.2 306.8,220.5 314.7,214.4 322.6,208.1 330.6,201.6 338.5,194.7 346.4,187.6 354.3,180.1 362.3,172.3 370.2,164.1 378.1,155.6 386.1,146.7 394.0,137.4 401.9,127.8 409.9,117.6 417.8,107.1 425.7,96.0 433.7,84.5 441.6,72.5 449.5,59.9 453.5,53.4" fill="none" stroke="#0072BD" stroke-width="1.5" stroke-linejoin="round"/>
<path d="M60.9,321.1 68.8,319.8 76.7,318.5 84.7,317.1 92.6,315.7 100.5,314.1 108.5,312.5 116.4,310.9 124.3,309.1 132.3,307.3 140.2,305.4 148.1,303.3 156.1,301.2 164.0,299.0 171.9,296.7 179.8,294.2 187.8,291.6 195.7,288.9 203.6,286.1 211.6,283.2 219.5,280.0 227.4,276.8 235.4,273.4 243.3,269.8 251.2,266.0 259.2,262.1 267.1,257.9 275.0,253.6 283.0,249.0 290.9,244.3 298.8,239.3 306.8,234.0 314.7,228.5 322.6,222.7 330.6,216.7 338.5,210.3 346.4,203.6 354.3,196.6 362.3,189.3 370.2,181.6 378.1,173.5 386.1,165.1 394.0,156.2 401.9,146.9 409.9,137.1 417.8,126.9 425.7,116.1 433.7,104.9 441.6,93.0 449.5,80.6 453.5,74.2" fill="none" stroke="#D95319" stroke-width="1.5" stroke-linejoin="round"/>
<path d="M60.9,321.1 68.8,319.7 76.7,318.3 84.7,316.8 92.6,315.2 100.5,313.6 108.5,311.9 116.4,310.1 124.3,308.2 132.3,306.3 140.2,304.2 148.1,302.1 156.1,299.9 164.0,297.6 171.9,295.2 179.8,292.6 187.8,290.0 195.7,287.2 203.6,284.3 211.6,281.3 219.5,278.1 227.4,274.8 235.4,271.4 243.3,267.8 251.2,264.0 259.2,260.1 267.1,256.0 275.0,251.7 283.0,247.2 290.9,242.5 298.8,237.6 306.8,232.5 314.7,227.1 322.6,221.6 330.6,215.7 338.5,209.6 346.4,203.2 354.3,196.6 362.3,189.6 370.2,182.3 378.1,174.7 386.1,166.8 394.0,158.5 401.9,149.8 409.9,140.7 417.8,131.2 425.7,121.3 433.7,111.0 441.6,100.2 449.5,88.9 453.5,83.1" fill="none" stroke="#EDB120" stroke-width="1.5" stroke-linejoin="round"/>
<path d="M60.9,321.1 68.8,319.9 76.7,318.7 84.7,317.4 92.6,316.0 100.5,314.6 108.5,313.2 116.4,311.6 124.3,310.0 132.3,308.4 140.2,306.6 148.1,304.8 156.1,302.8 164.0,300.8 171.9,298.7 179.8,296.5 187.8,294.3 195.7,291.9 203.6,289.3 211.6,286.7 219.5,284.0 227.4,281.1 235.4,278.1 243.3,275.0 251.2,271.7 259.2,268.3 267.1,264.7 275.0,260.9 283.0,257.0 290.9,252.9 298.8,248.6 306.8,244.1 314.7,239.4 322.6,234.5 330.6,229.4 338.5,224.0 346.4,218.4 354.3,212.5 362.3,206.4 370.2,200.0 378.1,193.3 386.1,186.2 394.0,178.9 401.9,171.2 409.9,163.2 417.8,154.8 425.7,146.0 433.7,136.9 441.6,127.3 449.5,117.2 453.5,112.0" fill="none" stroke="#7E2F8E" stroke-width="1.5" stroke-linejoin="round"/>
<path d="M60.9,321.1 68.8,319.8 76.7,318.5 84.7,317.2 92.6,315.7 100.5,314.3 108.5,312.7 116.4,311.1 124.3,309.4 132.3,307.6 140.2,305.8 148.1,303.8 156.1,301.8 164.0,299.7 171.9,297.5 179.8,295.2 187.8,292.8 195.7,290.3 203.6,287.7 211.6,284.9 219.5,282.1 227.4,279.1 235.4,275.9 243.3,272.7 251.2,269.2 259.2,265.7 267.1,261.9 275.0,258.0 283.0,254.0 290.9,249.7 298.8,245.3 306.8,240.6 314.7,235.8 322.6,230.7 330.6,225.4 338.5,219.9 346.4,214.1 354.3,208.0 362.3,201.7 370.2,195.1 378.1,188.2 386.1,181.0 394.0,173.5 401.9,165.6 409.9,157.4 417.8,148.8 425.7,139.9 433.7,130.5 441.6,120.7 449.5,110.5 453.5,105.2" fill="none" stroke="#77AC30" stroke-width="1.5" stroke-linejoin="round"/>
<path d="M60.9,321.1 68.8,319.3 76.7,317.5 84.7,315.6 92.6,313.7 100.5,311.6 108.5,309.5 116.4,307.3 124.3,305.0 132.3,302.6 140.2,300.2 148.1,297.6 156.1,294.9 164.0,292.2 171.9,289.3 179.8,286.3 187.8,283.2 195.7,279.9 203.6,276.6 211.6,273.1 219.5,269.4 227.4,265.6 235.4,261.7 243.3,257.6 251.2,253.4 259.2,249.0 267.1,244.4 275.0,239.6 283.0,234.7 290.9,229.5 298.8,224.2 306.8,218.6 314.7,212.8 322.6,206.8 330.6,200.6 338.5,194.1 346.4,187.3 354.3,180.3 362.3,173.0 370.2,165.4 378.1,157.5 386.1,149.4 394.0,140.8 401.9,132.0 409.9,122.8 417.8,113.2 425.7,103.3 433.7,93.0 441.6,82.3 449.5,71.1 453.5,65.4" fill="none" stroke="#4DBEEE" stroke-width="1.5" stroke-linejoin="round"/>
<path d="M60.9,321.1 68.8,319.7 76.7,318.2 84.7,316.7 92.6,315.2 100.5,313.6 108.5,311.9 116.4,310.1 124.3,308.3 132.3,306.4 140.2,304.4 148.1,302.3 156.1,300.2 164.0,298.0 171.9,295.6 179.8,293.2 187.8,290.7 195.7,288.0 203.6,285.3 211.6,282.5 219.5,279.5 227.4,276.4 235.4,273.2 243.3,269.8 251.2,266.4 259.2,262.7 267.1,259.0 275.0,255.0 283.0,250.9 290.9,246.7 298.8,242.2 306.8,237.6 314.7,232.8 322.6,227.8 330.6,222.6 338.5,217.2 346.4,211.5 354.3,205.6 362.3,199.5 370.2,193.1 378.1,186.5 386.1,179.6 394.0,172.4 401.9,164.9 409.9,157.1 417.8,149.0 425.7,140.5 433.7,131.7 441.6,122.6 449.5,113.0 453.5,108.1" fill="none" stroke="#A2142F" stroke-width="1.5" stroke-linejoin="round"/>
<path d="M60.9,321.1 68.8,319.7 76.7,318.3 84.7,316.8 92.6,315.3 100.5,313.6 108.5,312.0 116.4,310.2 124.3,308.4 132.3,306.5 140.2,304.5 148.1,302.4 156.1,300.2 164.0,298.0 171.9,295.6 179.8,293.1 187.8,290.6 195.7,287.9 203.6,285.1 211.6,282.2 219.5,279.1 227.4,276.0 235.4,272.6 243.3,269.2 251.2,265.6 259.2,261.8 267.1,257.9 275.0,253.8 283.0,249.5 290.9,245.1 298.8,240.4 306.8,235.6 314.7,230.5 322.6,225.2 330.6,219.7 338.5,214.0 346.4,208.0 354.3,201.7 362.3,195.2 370.2,188.4 378.1,181.3 386.1,173.8 394.0,166.1 401.9,158.0 409.9,149.6 417.8,140.8 425.7,131.7 433.7,122.1 441.6,112.1 449.5,101.7 453.5,96.3" fill="none" stroke="#0072BD" stroke-width="1.5" stroke-linejoin="round"/>
<path d="M60.9,321.1 68.8,319.3 76.7,317.4 84.7,315.5 92.6,313.5 100.5,311.4 108.5,309.2 116.4,306.9 124.3,304.6 132.3,302.1 140.2,299.5 148.1,296.8 156.1,294.1 164.0,291.2 171.9,288.1 179.8,285.0 187.8,281.7 195.7,278.3 203.6,274.8 211.6,271.1 219.5,267.2 227.4,263.2 235.4,259.0 243.3,254.7 251.2,250.2 259.2,245.4 267.1,240.5 275.0,235.4 283.0,230.1 290.9,224.5 298.8,218.8 306.8,212.8 314.7,206.5 322.6,200.0 330.6,193.2 338.5,186.1 346.4,178.8 354.3,171.1 362.3,163.1 370.2,154.8 378.1,146.1 386.1,137.1 394.0,127.7 401.9,118.0 409.9,107.8 417.8,97.2 425.7,86.1 433.7,74.6 441.6,62.7 449.5,50.2 453.5,43.8" fill="none" stroke="#D95319" stroke-width="2.0" stroke-linejoin="round"/>
<path d="M477.70,7.0 L479.0,7.0 479.1,7.7 479.3,8.4 479.4,9.0 479.6,9.7 479.8,10.4 480.0,11.1 480.2,11.7 480.4,12.4 480.6,13.1 480.9,13.8 481.2,14.4 481.5,15.1 481.8,15.8 482.1,16.5 482.5,17.1 482.9,17.8 483.3,18.5 483.8,19.2 484.3,19.9 484.8,20.5 485.3,21.2 485.9,21.9 486.6,22.6 487.2,23.2 487.9,23.9 488.7,24.6 489.4,25.3 490.3,25.9 491.2,26.6 492.1,27.3 493.1,28.0 494.1,28.6 495.2,29.3 496.3,30.0 497.5,30.7 498.7,31.3 500.0,32.0 501.4,32.7 502.8,33.4 504.3,34.1 505.9,34.7 507.5,35.4 509.1,36.1 510.9,36.8 512.7,37.4 514.5,38.1 516.5,38.8 518.5,39.5 520.5,40.1 522.6,40.8 524.8,41.5 527.0,42.2 529.3,42.8 531.7,43.5 534.1,44.2 536.6,44.9 539.1,45.6 541.7,46.2 544.3,46.9 546.9,47.6 549.6,48.3 552.4,48.9 555.2,49.6 558.0,50.3 560.8,51.0 563.6,51.6 566.5,52.3 569.4,53.0 572.2,53.7 575.1,54.3 578.0,55.0 580.9,55.7 583.7,56.4 586.6,57.1 589.4,57.7 592.2,58.4 594.9,59.1 597.6,59.8 600.3,60.4 602.9,61.1 605.4,61.8 607.8,62.5 610.2,63.1 612.5,63.8 614.8,64.5 616.9,65.2 618.9,65.8 620.9,66.5 622.7,67.2 624.4,67.9 626.1,68.6 627.5,69.2 628.9,69.9 630.1,70.6 631.3,71.3 632.2,71.9 633.1,72.6 633.8,73.3 634.3,74.0 634.8,74.6 635.0,75.3 635.2,76.0 635.2,76.7 635.0,77.3 634.7,78.0 634.3,78.7 633.7,79.4 633.0,80.0 632.2,80.7 631.2,81.4 630.0,82.1 628.8,82.8 627.4,83.4 625.9,84.1 624.3,84.8 622.6,85.5 620.7,86.1 618.8,86.8 616.7,87.5 614.6,88.2 612.3,88.8 610.0,89.5 607.6,90.2 605.2,90.9 602.6,91.5 600.0,92.2 597.4,92.9 594.7,93.6 591.9,94.3 589.2,94.9 586.3,95.6 583.5,96.3 580.6,97.0 577.8,97.6 574.9,98.3 572.0,99.0 569.1,99.7 566.2,100.3 563.4,101.0 560.5,101.7 557.7,102.4 554.9,103.0 552.1,103.7 549.4,104.4 546.7,105.1 544.1,105.8 541.4,106.4 538.9,107.1 536.4,107.8 533.9,108.5 531.5,109.1 529.1,109.8 526.8,110.5 524.6,111.2 522.4,111.8 520.3,112.5 518.3,113.2 516.3,113.9 514.4,114.5 512.5,115.2 510.7,115.9 509.0,116.6 507.3,117.3 505.7,117.9 504.2,118.6 502.7,119.3 501.3,120.0 499.9,120.6 498.6,121.3 497.4,122.0 496.2,122.7 495.1,123.3 494.0,124.0 493.0,124.7 492.0,125.4 491.1,126.0 490.2,126.7 489.4,127.4 488.6,128.1 487.9,128.7 487.2,129.4 486.5,130.1 485.9,130.8 485.3,131.5 484.8,132.1 484.2,132.8 483.8,133.5 483.3,134.2 482.9,134.8 482.5,135.5 482.1,136.2 481.8,136.9 481.5,137.5 481.2,138.2 480.9,138.9 480.6,139.6 480.4,140.2 480.2,140.9 479.9,141.6 L477.70,141.6 Z" fill="#d3e5ec" stroke="none"/>
<line x1="541.06" y1="347.20" x2="541.06" y2="7.00" stroke="#262626" stroke-opacity="0.15" stroke-width="1.2" stroke-dasharray="5.25 4.59" stroke-dashoffset="1.5"/>
<line x1="604.42" y1="347.20" x2="604.42" y2="7.00" stroke="#262626" stroke-opacity="0.15" stroke-width="1.2" stroke-dasharray="5.25 4.59" stroke-dashoffset="1.5"/>
<line x1="667.78" y1="347.20" x2="667.78" y2="7.00" stroke="#262626" stroke-opacity="0.15" stroke-width="1.2" stroke-dasharray="5.25 4.59" stroke-dashoffset="1.5"/>
<line x1="477.70" y1="290.50" x2="667.78" y2="290.50" stroke="#262626" stroke-opacity="0.15" stroke-width="1.2" stroke-dasharray="5.25 4.59" stroke-dashoffset="1.5"/>
<line x1="477.70" y1="233.80" x2="667.78" y2="233.80" stroke="#262626" stroke-opacity="0.15" stroke-width="1.2" stroke-dasharray="5.25 4.59" stroke-dashoffset="1.5"/>
<line x1="477.70" y1="177.10" x2="667.78" y2="177.10" stroke="#262626" stroke-opacity="0.15" stroke-width="1.2" stroke-dasharray="5.25 4.59" stroke-dashoffset="1.5"/>
<line x1="477.70" y1="120.40" x2="667.78" y2="120.40" stroke="#262626" stroke-opacity="0.15" stroke-width="1.2" stroke-dasharray="5.25 4.59" stroke-dashoffset="1.5"/>
<line x1="477.70" y1="63.70" x2="667.78" y2="63.70" stroke="#262626" stroke-opacity="0.15" stroke-width="1.2" stroke-dasharray="5.25 4.59" stroke-dashoffset="1.5"/>
<line x1="477.70" y1="7.00" x2="667.78" y2="7.00" stroke="#262626" stroke-opacity="0.15" stroke-width="1.2" stroke-dasharray="5.25 4.59" stroke-dashoffset="1.5"/>
<path d="M479.0,7.0 479.1,7.7 479.3,8.4 479.4,9.0 479.6,9.7 479.8,10.4 480.0,11.1 480.2,11.7 480.4,12.4 480.6,13.1 480.9,13.8 481.2,14.4 481.5,15.1 481.8,15.8 482.1,16.5 482.5,17.1 482.9,17.8 483.3,18.5 483.8,19.2 484.3,19.9 484.8,20.5 485.3,21.2 485.9,21.9 486.6,22.6 487.2,23.2 487.9,23.9 488.7,24.6 489.4,25.3 490.3,25.9 491.2,26.6 492.1,27.3 493.1,28.0 494.1,28.6 495.2,29.3 496.3,30.0 497.5,30.7 498.7,31.3 500.0,32.0 501.4,32.7 502.8,33.4 504.3,34.1 505.9,34.7 507.5,35.4 509.1,36.1 510.9,36.8 512.7,37.4 514.5,38.1 516.5,38.8 518.5,39.5 520.5,40.1 522.6,40.8 524.8,41.5 527.0,42.2 529.3,42.8 531.7,43.5 534.1,44.2 536.6,44.9 539.1,45.6 541.7,46.2 544.3,46.9 546.9,47.6 549.6,48.3 552.4,48.9 555.2,49.6 558.0,50.3 560.8,51.0 563.6,51.6 566.5,52.3 569.4,53.0 572.2,53.7 575.1,54.3 578.0,55.0 580.9,55.7 583.7,56.4 586.6,57.1 589.4,57.7 592.2,58.4 594.9,59.1 597.6,59.8 600.3,60.4 602.9,61.1 605.4,61.8 607.8,62.5 610.2,63.1 612.5,63.8 614.8,64.5 616.9,65.2 618.9,65.8 620.9,66.5 622.7,67.2 624.4,67.9 626.1,68.6 627.5,69.2 628.9,69.9 630.1,70.6 631.3,71.3 632.2,71.9 633.1,72.6 633.8,73.3 634.3,74.0 634.8,74.6 635.0,75.3 635.2,76.0 635.2,76.7 635.0,77.3 634.7,78.0 634.3,78.7 633.7,79.4 633.0,80.0 632.2,80.7 631.2,81.4 630.0,82.1 628.8,82.8 627.4,83.4 625.9,84.1 624.3,84.8 622.6,85.5 620.7,86.1 618.8,86.8 616.7,87.5 614.6,88.2 612.3,88.8 610.0,89.5 607.6,90.2 605.2,90.9 602.6,91.5 600.0,92.2 597.4,92.9 594.7,93.6 591.9,94.3 589.2,94.9 586.3,95.6 583.5,96.3 580.6,97.0 577.8,97.6 574.9,98.3 572.0,99.0 569.1,99.7 566.2,100.3 563.4,101.0 560.5,101.7 557.7,102.4 554.9,103.0 552.1,103.7 549.4,104.4 546.7,105.1 544.1,105.8 541.4,106.4 538.9,107.1 536.4,107.8 533.9,108.5 531.5,109.1 529.1,109.8 526.8,110.5 524.6,111.2 522.4,111.8 520.3,112.5 518.3,113.2 516.3,113.9 514.4,114.5 512.5,115.2 510.7,115.9 509.0,116.6 507.3,117.3 505.7,117.9 504.2,118.6 502.7,119.3 501.3,120.0 499.9,120.6 498.6,121.3 497.4,122.0 496.2,122.7 495.1,123.3 494.0,124.0 493.0,124.7 492.0,125.4 491.1,126.0 490.2,126.7 489.4,127.4 488.6,128.1 487.9,128.7 487.2,129.4 486.5,130.1 485.9,130.8 485.3,131.5 484.8,132.1 484.2,132.8 483.8,133.5 483.3,134.2 482.9,134.8 482.5,135.5 482.1,136.2 481.8,136.9 481.5,137.5 481.2,138.2 480.9,138.9 480.6,139.6 480.4,140.2 480.2,140.9 479.9,141.6" fill="none" stroke="#a2142f" stroke-width="2.4" stroke-linejoin="round" stroke-linecap="round"/>
<path d="M477.70,347.20v3.2M493.54,347.20v2.4M509.38,347.20v2.4M525.22,347.20v2.4M541.06,347.20v3.2M556.90,347.20v2.4M572.74,347.20v2.4M588.58,347.20v2.4M604.42,347.20v3.2M620.26,347.20v2.4M636.10,347.20v2.4M651.94,347.20v2.4M667.78,347.20v3.2M477.70,347.20h-3.2M477.70,333.02h-2.4M477.70,318.85h-2.4M477.70,304.67h-2.4M477.70,290.50h-3.2M477.70,276.32h-2.4M477.70,262.15h-2.4M477.70,247.97h-2.4M477.70,233.80h-3.2M477.70,219.62h-2.4M477.70,205.45h-2.4M477.70,191.27h-2.4M477.70,177.10h-3.2M477.70,162.92h-2.4M477.70,148.75h-2.4M477.70,134.57h-2.4M477.70,120.40h-3.2M477.70,106.22h-2.4M477.70,92.05h-2.4M477.70,77.87h-2.4M477.70,63.70h-3.2M477.70,49.52h-2.4M477.70,35.35h-2.4M477.70,21.17h-2.4M477.70,7.00h-3.2" stroke="#1a1a1a" stroke-width="1.5" fill="none"/>
<path d="M477.70,7.00V347.20H667.78" stroke="#1a1a1a" stroke-width="1.7" fill="none"/>
<rect x="482.8" y="260.3" width="181.8" height="77.2" fill="#eac7c7" stroke="#453d3e" stroke-width="1.1"/>
<text x="57.20" y="373.4" text-anchor="middle" style="font-family:'Liberation Serif',serif;font-weight:bold;font-size:18px">0</text>
<text x="136.52" y="373.4" text-anchor="middle" style="font-family:'Liberation Serif',serif;font-weight:bold;font-size:18px">20</text>
<text x="215.84" y="373.4" text-anchor="middle" style="font-family:'Liberation Serif',serif;font-weight:bold;font-size:18px">40</text>
<text x="295.16" y="373.4" text-anchor="middle" style="font-family:'Liberation Serif',serif;font-weight:bold;font-size:18px">60</text>
<text x="374.48" y="373.4" text-anchor="middle" style="font-family:'Liberation Serif',serif;font-weight:bold;font-size:18px">80</text>
<text x="453.80" y="373.4" text-anchor="middle" style="font-family:'Liberation Serif',serif;font-weight:bold;font-size:18px">100</text>
<text x="477.70" y="373.4" text-anchor="middle" style="font-family:'Liberation Serif',serif;font-weight:bold;font-size:18px">0</text>
<text x="541.06" y="373.4" text-anchor="middle" style="font-family:'Liberation Serif',serif;font-weight:bold;font-size:18px">2</text>
<text x="604.42" y="373.4" text-anchor="middle" style="font-family:'Liberation Serif',serif;font-weight:bold;font-size:18px">4</text>
<text x="667.78" y="373.4" text-anchor="middle" style="font-family:'Liberation Serif',serif;font-weight:bold;font-size:18px">6</text>
<text x="50.0" y="356.60" text-anchor="end" style="font-family:'Liberation Serif',serif;font-weight:bold;font-size:18px">0</text>
<text x="50.0" y="299.72" text-anchor="end" style="font-family:'Liberation Serif',serif;font-weight:bold;font-size:18px">0.2</text>
<text x="50.0" y="242.84" text-anchor="end" style="font-family:'Liberation Serif',serif;font-weight:bold;font-size:18px">0.4</text>
<text x="50.0" y="185.96" text-anchor="end" style="font-family:'Liberation Serif',serif;font-weight:bold;font-size:18px">0.6</text>
<text x="50.0" y="129.08" text-anchor="end" style="font-family:'Liberation Serif',serif;font-weight:bold;font-size:18px">0.8</text>
<text x="50.0" y="72.20" text-anchor="end" style="font-family:'Liberation Serif',serif;font-weight:bold;font-size:18px">1</text>
<text x="50.0" y="15.32" text-anchor="end" style="font-family:'Liberation Serif',serif;font-weight:bold;font-size:18px">1.2</text>
<text x="230.7" y="398" style="font-family:'Liberation Sans',sans-serif;font-weight:bold;stroke:#000;stroke-width:0.35px;font-size:18px">Cycle</text>
<text x="462.8" y="398" textLength="218.9" lengthAdjust="spacingAndGlyphs" style="font-family:'Liberation Sans',sans-serif;font-weight:bold;stroke:#000;stroke-width:0.35px;font-size:18px">PDF of uncertainty error</text>
<text transform="translate(17.3,327.1) rotate(-90)" x="0" y="0" textLength="296.2" lengthAdjust="spacingAndGlyphs" style="font-family:'Liberation Sans',sans-serif;font-weight:bold;stroke:#000;stroke-width:0.35px;font-size:18.5px">Normalized vibration signal RMS</text>
<text x="490.2" y="282.5" textLength="163.2" lengthAdjust="spacingAndGlyphs" style="font-family:'Liberation Sans',sans-serif;font-weight:bold;stroke:#000;stroke-width:0.35px;font-size:16px">Normal distribution</text>
<text x="490.4" y="304.7" textLength="91.1" lengthAdjust="spacingAndGlyphs" style="font-family:'Liberation Sans',sans-serif;font-weight:bold;stroke:#000;stroke-width:0.35px;font-size:16px">Mean: 0.96</text>
<text x="490.0" y="325.9" textLength="82.0" lengthAdjust="spacingAndGlyphs" style="font-family:'Liberation Sans',sans-serif;font-weight:bold;stroke:#000;stroke-width:0.35px;font-size:16px">Std: 0.089</text>
</svg>
</body></html>
